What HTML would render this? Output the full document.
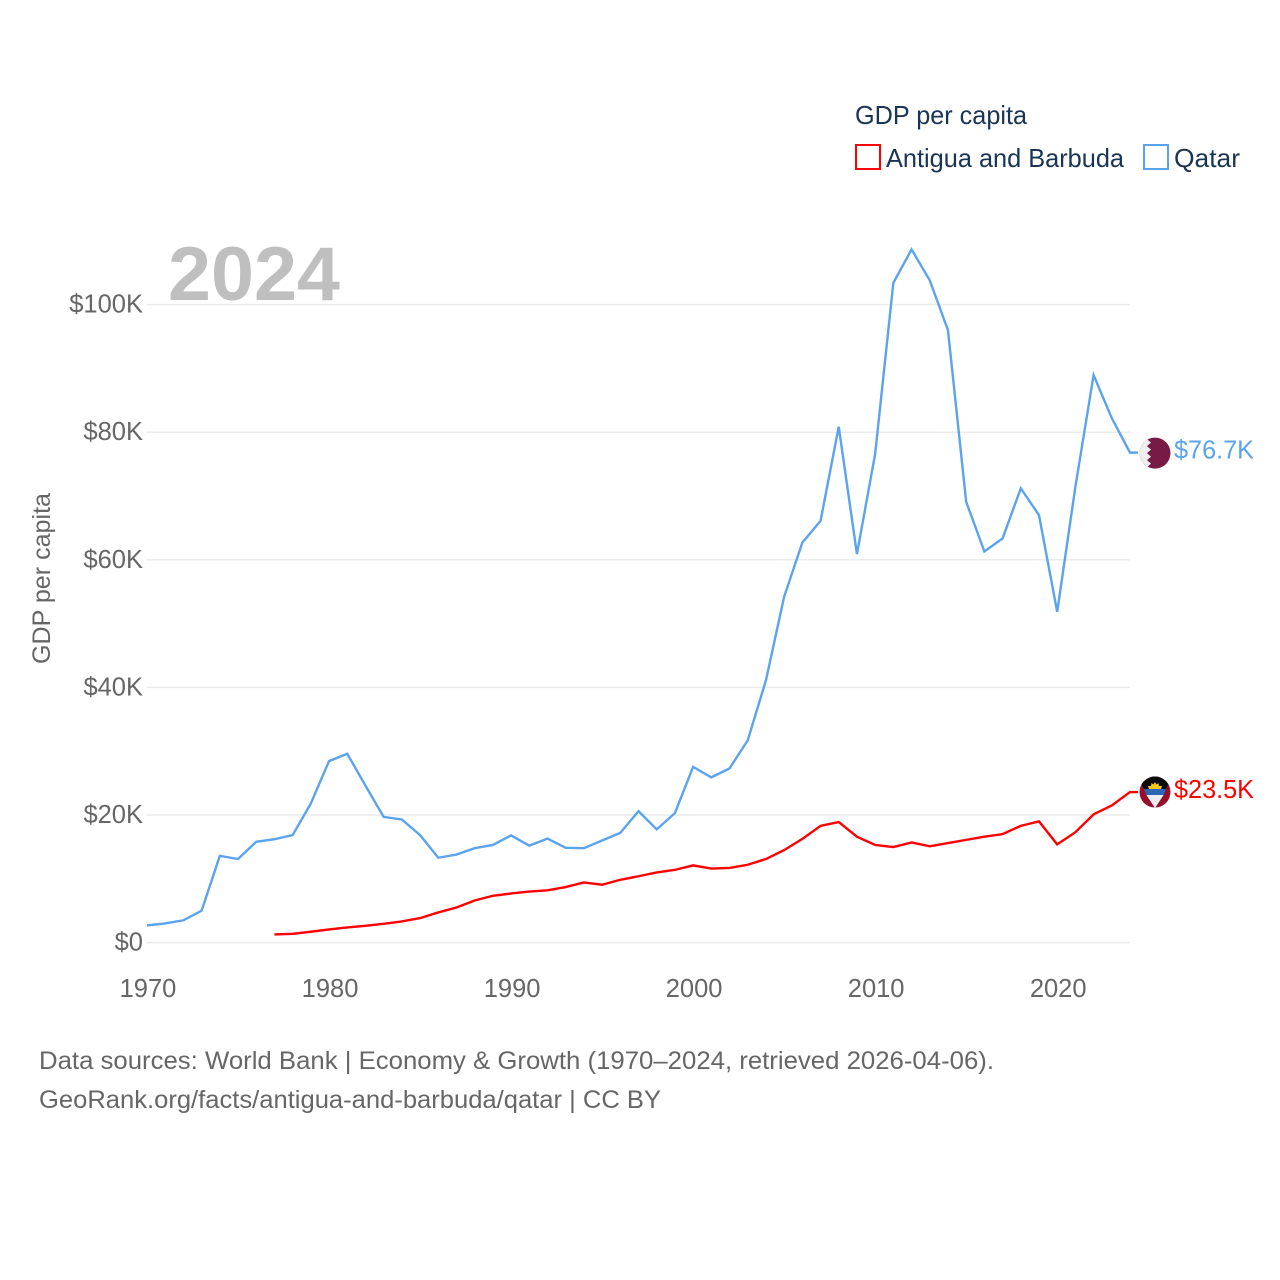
<!DOCTYPE html>
<html lang="en">
<head>
<meta charset="utf-8">
<title>GDP per capita: Antigua and Barbuda vs Qatar</title>
<style>
html,body{margin:0;padding:0;background:#fff;width:1280px;height:1280px;overflow:hidden}
svg{display:block}
text{font-family:"Liberation Sans",sans-serif}
</style>
</head>
<body>
<svg id="chart" xmlns="http://www.w3.org/2000/svg" width="1280" height="1280" viewBox="0 0 1280 1280">
  <rect width="1280" height="1280" fill="#fff"/>
  <g id="grid"></g>
  <g id="yticks"></g>
  <g id="xticks"></g>
  <text x="168" y="300" font-size="76" font-weight="700" fill="#bfbfbf" textLength="172" lengthAdjust="spacingAndGlyphs">2024</text>
  <text transform="translate(50,664) rotate(-90)" font-size="25" fill="#666" textLength="171" lengthAdjust="spacingAndGlyphs">GDP per capita</text>
  <g id="series"></g>

  <g>
    <text x="855" y="124" font-size="26" fill="#1a3454" textLength="172" lengthAdjust="spacingAndGlyphs">GDP per capita</text>
    <g>
      <rect x="856" y="145" width="24" height="24" fill="none" stroke="#ff0000" stroke-width="2"/>
      <text x="886" y="167" font-size="26" fill="#1a3454" textLength="238" lengthAdjust="spacingAndGlyphs">Antigua and Barbuda</text>
    </g>
    <g>
      <rect x="1144" y="145" width="24" height="24" fill="none" stroke="#5ba4ed" stroke-width="2"/>
      <text x="1174" y="167" font-size="26" fill="#1a3454" textLength="66" lengthAdjust="spacingAndGlyphs">Qatar</text>
    </g>
  </g>

  <defs>
    <clipPath id="flag-clip"><circle cx="0" cy="0" r="15.5"/></clipPath>
  </defs>

  <g id="flag-qatar">
    <g clip-path="url(#flag-clip)">
      <rect x="-16" y="-16" width="32" height="32" fill="#771a46"/>
      <polygon fill="#eeeeee" points="-16,-16 -4,-16 -8,-14 -4,-10.5 -8,-7 -4,-3.5 -8,0 -4,3.5 -8,7 -4,10.5 -8,14 -4,16 -16,16"/>
    </g>
  </g>

  <g id="flag-antigua">
    <g clip-path="url(#flag-clip)">
      <rect x="-16" y="-16" width="32" height="32" fill="#950f2d"/>
      <polygon fill="#0c0c0c" points="-16,-16 16,-16 16,-12 11,-3 -11,-3 -16,-12"/>
      <polygon fill="#f7c61a" points="-6,-3 -7,-6 -4,-6 -3.5,-9 -1.5,-7.5 0,-10 1.5,-7.5 3.5,-9 4,-6 7,-6 6,-3"/>
      <polygon fill="#2a66b8" points="-11,-3 11,-3 8.6,3 -8.6,3"/>
      <polygon fill="#eeeeee" points="-8.6,3 8.6,3 0,16"/>
    </g>
  </g>

  <g id="endlabels"></g>

  <g>
    <text x="39" y="1069" font-size="25" fill="#666" textLength="955" lengthAdjust="spacingAndGlyphs">Data sources: World Bank | Economy &amp; Growth (1970–2024, retrieved 2026-04-06).</text>
    <text x="39" y="1108" font-size="25" fill="#666" textLength="622" lengthAdjust="spacingAndGlyphs">GeoRank.org/facts/antigua-and-barbuda/qatar | CC BY</text>
  </g>
</svg>

<script>
var years = [1970,1971,1972,1973,1974,1975,1976,1977,1978,1979,1980,1981,1982,1983,1984,1985,1986,1987,1988,1989,1990,1991,1992,1993,1994,1995,1996,1997,1998,1999,2000,2001,2002,2003,2004,2005,2006,2007,2008,2009,2010,2011,2012,2013,2014,2015,2016,2017,2018,2019,2020,2021,2022,2023,2024];
var qatarValues = [2.7,3.0,3.5,5.0,13.6,13.1,15.8,16.2,16.85,21.8,28.45,29.6,24.6,19.7,19.3,16.85,13.3,13.8,14.8,15.3,16.8,15.2,16.3,14.85,14.8,16.0,17.2,20.6,17.75,20.3,27.55,25.9,27.3,31.7,41.1,54.2,62.7,66.1,80.85,60.9,76.6,103.4,108.65,103.8,96.0,69.1,61.3,63.35,71.2,67.0,51.85,71.45,88.95,82.2,76.8];
var antiguaValues = [null,null,null,null,null,null,null,1.28,1.38,1.7,2.07,2.37,2.64,2.95,3.32,3.84,4.73,5.5,6.6,7.34,7.7,8.0,8.2,8.7,9.43,9.07,9.85,10.4,11.0,11.4,12.1,11.6,11.7,12.2,13.1,14.5,16.25,18.3,18.9,16.6,15.3,14.97,15.7,15.1,15.6,16.1,16.6,17.0,18.3,19.0,15.4,17.3,20.1,21.5,23.6];
var yTickValues = [0,20,40,60,80,100];
var yTickLabels = ["$0","$20K","$40K","$60K","$80K","$100K"];
var xTickValues = [1970,1980,1990,2000,2010,2020];
var xTickLabels = ["1970","1980","1990","2000","2010","2020"];
var qatarEndLabel = "$76.7K";
var antiguaEndLabel = "$23.5K";

var NS = "http://www.w3.org/2000/svg";
function xScale(year){ return 147 + (year - 1970) * (1130 - 147) / 54; }
function yScale(v){ return 942.6 - v * 6.38; }
function make(tag, parent){
  var el = document.createElementNS(NS, tag);
  parent.appendChild(el);
  return el;
}

var gridGroup = document.getElementById("grid");
var yGroup = document.getElementById("yticks");
yTickValues.forEach(function(v, i){
  var line = make("line", gridGroup);
  
  
  line.setAttribute("x1", 146.7);
  line.setAttribute("x2", 1130);
  line.setAttribute("y1", yScale(v));
  line.setAttribute("y2", yScale(v));
  line.setAttribute("stroke", "#ebebeb");
  line.setAttribute("stroke-width", "1.5");
  var label = make("text", yGroup);
  
  
  label.setAttribute("x", 143);
  label.setAttribute("y", yScale(v) + 8);
  label.setAttribute("text-anchor", "end");
  label.setAttribute("font-size", "25.5");
  label.setAttribute("fill", "#666");
  label.textContent = yTickLabels[i];
});

var xGroup = document.getElementById("xticks");
xTickValues.forEach(function(year, i){
  var label = make("text", xGroup);
  
  
  label.setAttribute("x", xScale(year) + 1);
  label.setAttribute("y", 997);
  label.setAttribute("text-anchor", "middle");
  label.setAttribute("font-size", "25.5");
  label.setAttribute("fill", "#666");
  label.textContent = xTickLabels[i];
});

function linePath(values){
  var d = "", last = null;
  values.forEach(function(v, i){
    if (v === null) return;
    d += (d ? "L" : "M") + xScale(years[i]).toFixed(2) + "," + yScale(v).toFixed(2);
    last = v;
  });
  d += "L" + (xScale(years[years.length - 1]) + 8).toFixed(2) + "," + yScale(last).toFixed(2);
  return d;
}

var seriesGroup = document.getElementById("series");
var qatarLine = make("path", seriesGroup);


qatarLine.setAttribute("d", linePath(qatarValues));
qatarLine.setAttribute("fill", "none");
qatarLine.setAttribute("stroke", "#5ba4ed");
qatarLine.setAttribute("stroke-width", "2.4");

var antiguaLine = make("path", seriesGroup);


antiguaLine.setAttribute("d", linePath(antiguaValues));
antiguaLine.setAttribute("fill", "none");
antiguaLine.setAttribute("stroke", "#ff0000");
antiguaLine.setAttribute("stroke-width", "2.4");

var qatarLast = qatarValues[qatarValues.length - 1];
var antiguaLast = antiguaValues[antiguaValues.length - 1];
document.getElementById("flag-qatar").setAttribute("transform", "translate(1155," + (yScale(qatarLast) + 0.5) + ")");
document.getElementById("flag-antigua").setAttribute("transform", "translate(1155," + yScale(antiguaLast) + ")");

var endGroup = document.getElementById("endlabels");
var qatarLabel = make("text", endGroup);


qatarLabel.setAttribute("x", 1174);
qatarLabel.setAttribute("y", yScale(qatarLast) + 6);
qatarLabel.setAttribute("font-size", "25.5");
qatarLabel.setAttribute("fill", "#5ba4ed");
qatarLabel.setAttribute("textLength", "80");
qatarLabel.setAttribute("lengthAdjust", "spacingAndGlyphs");
qatarLabel.textContent = qatarEndLabel;

var antiguaLabel = make("text", endGroup);


antiguaLabel.setAttribute("x", 1174);
antiguaLabel.setAttribute("y", yScale(antiguaLast) + 6);
antiguaLabel.setAttribute("font-size", "25.5");
antiguaLabel.setAttribute("fill", "#ff0000");
antiguaLabel.setAttribute("textLength", "80");
antiguaLabel.setAttribute("lengthAdjust", "spacingAndGlyphs");
antiguaLabel.textContent = antiguaEndLabel;
</script>
</body>
</html>
